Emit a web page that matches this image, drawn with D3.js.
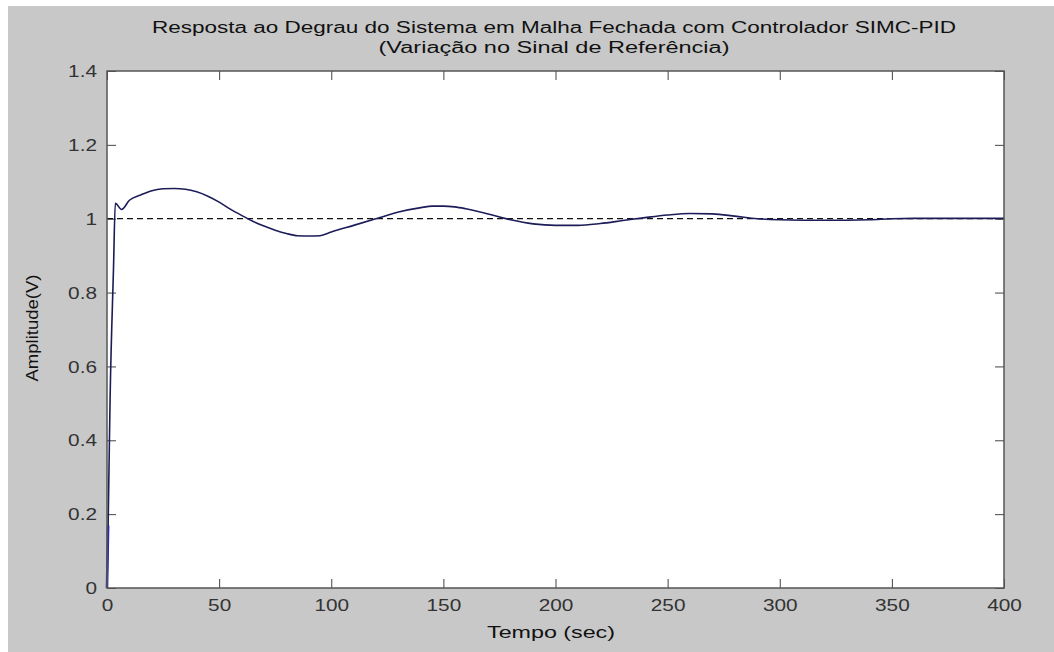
<!DOCTYPE html>
<html>
<head>
<meta charset="utf-8">
<script src="https://cdn.jsdelivr.net/npm/d3@7"></script>
<style>
  body { margin: 0; background: #fff; }
  text { font-family: "Liberation Sans", Arial, sans-serif; }
</style>
</head>
<body>
<script>
// data
var tempo = [0, 0.5, 1.4, 2.9, 3.7, 6.5, 10, 15, 20, 25, 30, 35, 40, 45, 50, 55, 60, 65, 70, 75,
             80, 85, 90, 95, 100, 110, 120, 130, 140, 145, 150, 155, 160, 170, 180, 190, 200, 210,
             220, 230, 240, 250, 260, 270, 280, 290, 300, 310, 320, 330, 340, 350, 360, 370, 380, 390, 400];
var amplitude = [0, 0.17, 0.52, 0.866, 1.042, 1.025, 1.050, 1.064, 1.076, 1.081, 1.082, 1.080, 1.073, 1.061, 1.045, 1.026, 1.009, 0.993, 0.980, 0.969,
             0.960, 0.954, 0.953, 0.954, 0.964, 0.982, 1.0, 1.018, 1.030, 1.034, 1.034, 1.032, 1.027, 1.013, 0.997, 0.986, 0.982, 0.982,
             0.987, 0.995, 1.003, 1.010, 1.014, 1.013, 1.007, 1.0, 0.997, 0.996, 0.996, 0.996, 0.997, 1.0, 1.001, 1.001, 1.001, 1.001, 1.001];
var referencia = 1;
var xTicks = [0, 50, 100, 150, 200, 250, 300, 350, 400];
var yTicks = [0, 0.2, 0.4, 0.6, 0.8, 1, 1.2, 1.4];
var titulo1 = "Resposta ao Degrau do Sistema em Malha Fechada com Controlador SIMC-PID";
var titulo2 = "(Variação no Sinal de Referência)";
var xLabel = "Tempo (sec)";
var yLabel = "Amplitude(V)";

var data = tempo.map((t, i) => ({t: t, v: amplitude[i]}));

// graph
var W = 1054, H = 652,
    margin = {top: 71, right: 50, bottom: 64, left: 107},
    width = W - margin.left - margin.right,
    height = H - margin.top - margin.bottom;

var svg = d3.select("body").append("svg")
    .attr("width", W)
    .attr("height", H);

// figure background
svg.append("rect")
    .attr("x", 8).attr("y", 6)
    .attr("width", W - 8).attr("height", H - 6)
    .attr("fill", "#c8c8c8");

var g = svg.append("g")
    .attr("transform", "translate(" + margin.left + "," + margin.top + ")");

var x = d3.scaleLinear().domain([0, 400]).range([0, width]);
var y = d3.scaleLinear().domain([0, 1.4]).range([height, 0]);

g.append("rect")
    .attr("width", width).attr("height", height)
    .attr("fill", "#fff");

// axes, ticks inside on all four sides
function styleAxis(sel) {
  sel.select(".domain").remove();
  sel.selectAll(".tick line").attr("stroke", "#444");
}

var xAxis = g.append("g")
    .attr("transform", "translate(0," + height + ")")
    .call(d3.axisBottom(x).tickValues(xTicks).tickSizeInner(-9).tickSizeOuter(0).tickFormat(d3.format("d")))
    .call(styleAxis);
xAxis.selectAll(".tick text")
    .attr("y", 23).attr("dy", 0)
    .attr("transform", "scale(1.3,1)")
    .attr("font-size", 16).attr("fill", "#333")
    .attr("font-family", "Liberation Sans, Arial, sans-serif");

g.append("g")
    .call(d3.axisTop(x).tickValues(xTicks).tickSizeInner(-9).tickSizeOuter(0).tickFormat(""))
    .call(styleAxis);

var yAxis = g.append("g")
    .call(d3.axisLeft(y).tickValues(yTicks).tickSizeInner(-9).tickSizeOuter(0).tickFormat(d3.format("")))
    .call(styleAxis);
yAxis.selectAll(".tick text")
    .attr("x", -7.7).attr("dy", "0.35em")
    .attr("transform", "scale(1.3,1)")
    .attr("font-size", 16).attr("fill", "#333")
    .attr("font-family", "Liberation Sans, Arial, sans-serif");

g.append("g")
    .attr("transform", "translate(" + width + ",0)")
    .call(d3.axisRight(y).tickValues(yTicks).tickSizeInner(-9).tickSizeOuter(0).tickFormat(""))
    .call(styleAxis);

// reference (dashed)
g.append("line")
    .attr("x1", x(0)).attr("x2", x(400))
    .attr("y1", y(referencia)).attr("y2", y(referencia))
    .attr("stroke", "#111")
    .attr("stroke-width", 1.3)
    .attr("stroke-dasharray", "6,4");

// step response
var line = d3.line()
    .x(d => x(d.t))
    .y(d => y(d.v))
    .curve(d3.curveMonotoneX);

g.append("path")
    .datum(data)
    .attr("d", line)
    .attr("fill", "none")
    .attr("stroke", "#1c1c58")
    .attr("stroke-width", 1.6);

// first sample segment shows blue
g.append("path")
    .datum(data.slice(0, 2))
    .attr("d", d3.line().x(d => x(d.t)).y(d => y(d.v)))
    .attr("fill", "none")
    .attr("stroke", "#2a2ab0")
    .attr("stroke-width", 2.6);

// box
g.append("rect")
    .attr("width", width).attr("height", height)
    .attr("fill", "none")
    .attr("stroke", "#555")
    .attr("stroke-width", 1.5);

// texts
svg.append("text")
    .attr("x", 554).attr("y", 33)
    .attr("text-anchor", "middle")
    .attr("font-size", 16).attr("fill", "#111")
    .attr("textLength", 804).attr("lengthAdjust", "spacingAndGlyphs")
    .text(titulo1);

svg.append("text")
    .attr("x", 554).attr("y", 53)
    .attr("text-anchor", "middle")
    .attr("font-size", 16).attr("fill", "#111")
    .attr("textLength", 351).attr("lengthAdjust", "spacingAndGlyphs")
    .text(titulo2);

svg.append("text")
    .attr("x", 551).attr("y", 638)
    .attr("text-anchor", "middle")
    .attr("font-size", 16).attr("fill", "#111")
    .attr("textLength", 128).attr("lengthAdjust", "spacingAndGlyphs")
    .text(xLabel);

svg.append("text")
    .attr("transform", "translate(38,328) rotate(-90)")
    .attr("text-anchor", "middle")
    .attr("font-size", 16).attr("fill", "#111")
    .attr("textLength", 107).attr("lengthAdjust", "spacingAndGlyphs")
    .text(yLabel);
</script>
</body>
</html>
